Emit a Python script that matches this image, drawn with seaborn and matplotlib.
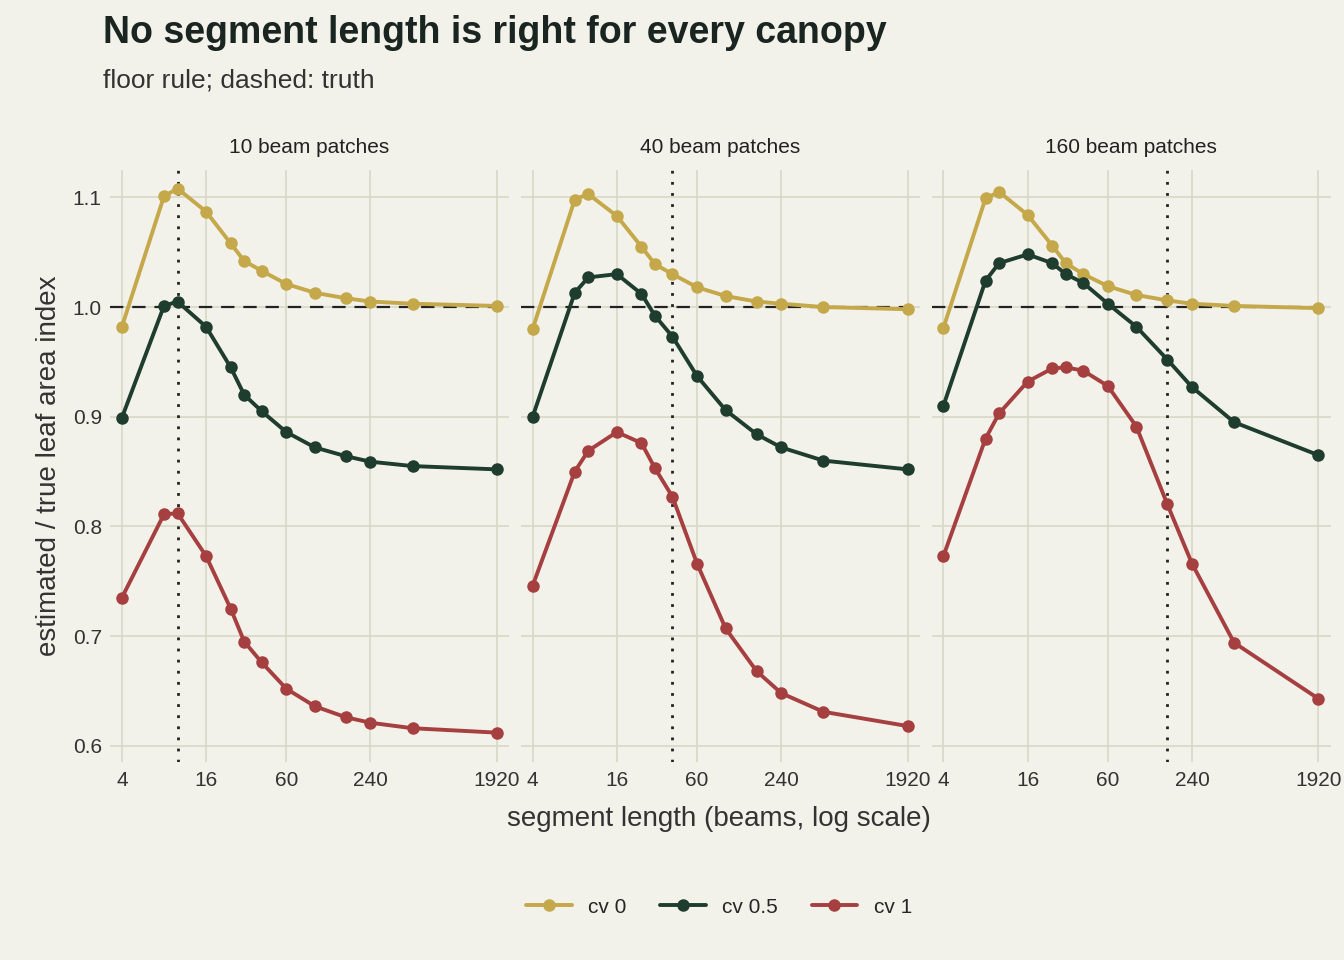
import matplotlib
matplotlib.use("Agg")
import matplotlib.pyplot as plt
import seaborn as sns
import pandas as pd
import numpy as np

seg = [4, 8, 10, 16, 24, 30, 40, 60, 96, 160, 240, 480, 1920]
panels = ["10 beam patches", "40 beam patches", "160 beam patches"]
truth = [10, 40, 160]
series = ["cv 0", "cv 0.5", "cv 1"]
p1_cv0 = [0.982, 1.101, 1.108, 1.087, 1.058, 1.042, 1.033, 1.021, 1.013, 1.008, 1.005, 1.003, 1.001]
p1_cv05 = [0.899, 1.001, 1.005, 0.982, 0.945, 0.920, 0.905, 0.886, 0.872, 0.864, 0.859, 0.855, 0.852]
p1_cv1 = [0.735, 0.811, 0.812, 0.773, 0.725, 0.695, 0.676, 0.652, 0.636, 0.626, 0.621, 0.616, 0.612]
p2_cv0 = [0.980, 1.098, 1.103, 1.083, 1.055, 1.039, 1.030, 1.018, 1.010, 1.005, 1.003, 1.000, 0.998]
p2_cv05 = [0.900, 1.013, 1.027, 1.030, 1.012, 0.992, 0.973, 0.937, 0.906, 0.884, 0.872, 0.860, 0.852]
p2_cv1 = [0.746, 0.850, 0.869, 0.886, 0.876, 0.853, 0.827, 0.766, 0.707, 0.668, 0.648, 0.631, 0.618]
p3_cv0 = [0.981, 1.099, 1.105, 1.084, 1.056, 1.040, 1.030, 1.019, 1.011, 1.006, 1.003, 1.001, 0.999]
p3_cv05 = [0.910, 1.024, 1.040, 1.048, 1.040, 1.030, 1.022, 1.003, 0.982, 0.952, 0.927, 0.895, 0.865]
p3_cv1 = [0.773, 0.880, 0.903, 0.932, 0.944, 0.945, 0.942, 0.928, 0.891, 0.820, 0.766, 0.694, 0.643]
xticks = [4, 16, 60, 240, 1920]

data = {
    panels[0]: [p1_cv0, p1_cv05, p1_cv1],
    panels[1]: [p2_cv0, p2_cv05, p2_cv1],
    panels[2]: [p3_cv0, p3_cv05, p3_cv1],
}
rows = []
for p in panels:
    for s, vals in zip(series, data[p]):
        for x, v in zip(seg, vals):
            rows.append(dict(panel=p, series=s, seg=x, val=v))
df = pd.DataFrame(rows)

bg = "#f2f1ea"
grid = "#d8d8c8"
palette = {"cv 0": "#c4a84a", "cv 0.5": "#1e3d2e", "cv 1": "#a63f3f"}

sns.set_theme(style="white")
plt.rcParams["font.family"] = ["Liberation Sans", "DejaVu Sans"]
fig, axes = plt.subplots(1, 3, figsize=(13.44, 9.6), dpi=100, sharey=True)
fig.patch.set_facecolor(bg)
fig.subplots_adjust(left=0.082, right=0.99, top=0.823, bottom=0.206, wspace=0.03)

for ax, p, t in zip(axes, panels, truth):
    ax.set_facecolor(bg)
    sub = df[df.panel == p]
    sns.lineplot(data=sub, x="seg", y="val", hue="series", palette=palette,
                 marker="o", markersize=9, markeredgewidth=0, linewidth=2.8,
                 ax=ax, legend=(ax is axes[1]))
    ax.set_xscale("log", base=2)
    ax.set_xlim(3.3, 2350)
    ax.set_ylim(0.585, 1.125)
    ax.set_xticks(xticks)
    ax.set_xticklabels([str(x) for x in xticks])
    ax.minorticks_off()
    ax.set_yticks([0.6, 0.7, 0.8, 0.9, 1.0, 1.1])
    ax.grid(True, color=grid, linewidth=1.2)
    ax.set_axisbelow(True)
    for sp in ax.spines.values():
        sp.set_visible(False)
    ax.axhline(1.0, color="#222222", linestyle=(0, (6, 4)), linewidth=1.6, zorder=1)
    ax.axvline(t, color="#222222", linestyle=(0, (1, 3)), linewidth=2.0, zorder=1)
    ax.set_title(p, fontsize=15, color="#222222", pad=12)
    ax.set_xlabel("")
    ax.set_ylabel("")
    ax.tick_params(axis="both", labelsize=15, colors="#333333", length=0, pad=6)

axes[0].set_ylabel("estimated / true leaf area index", fontsize=20, color="#333333", labelpad=8)
fig.text(0.535, 0.14, "segment length (beams, log scale)", ha="center", fontsize=20, color="#333333")
fig.text(0.077, 0.966, "No segment length is right for every canopy", fontsize=27,
         fontweight="bold", color="#1a2420", va="center")
fig.text(0.077, 0.916, "floor rule; dashed: truth", fontsize=19, color="#333333", va="center")

h, l = axes[1].get_legend_handles_labels()
axes[1].get_legend().remove()
fig.legend(h, l, loc="center", bbox_to_anchor=(0.535, 0.055), ncol=3, frameon=False,
           fontsize=15, handlelength=2.2, columnspacing=1.6)
fig.savefig("out.png", facecolor=bg)
